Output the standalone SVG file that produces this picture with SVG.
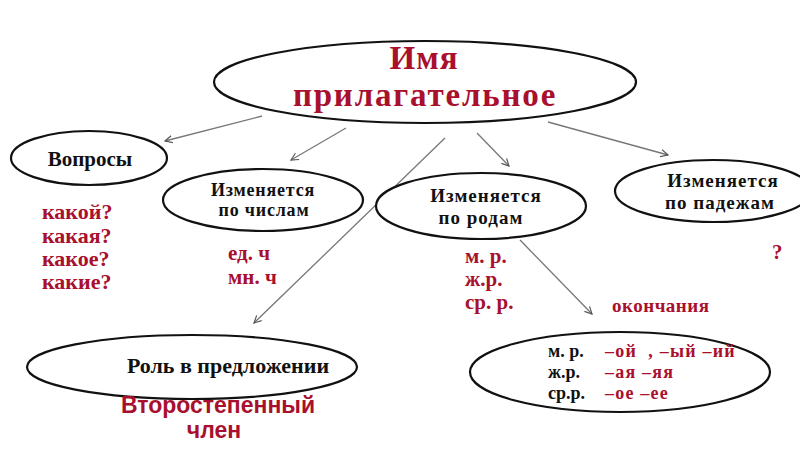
<svg xmlns="http://www.w3.org/2000/svg" width="800" height="449" viewBox="0 0 800 449">
<defs>
<style>
.n{fill:#fff;stroke:#111;stroke-width:2.2}
.b{font-family:"Liberation Serif","DejaVu Serif",serif;font-weight:bold;fill:#111}
.m{text-anchor:middle}
.r{font-family:"Liberation Serif","DejaVu Serif",serif;font-weight:bold;fill:#a8102e}
.rs{font-family:"Liberation Sans","DejaVu Sans",sans-serif;font-weight:bold;fill:#a8102e}
.c{stroke:#777;stroke-width:1.3;fill:none;marker-end:url(#a)}
</style>
<marker id="a" viewBox="0 0 10 10" refX="9" refY="5" markerWidth="9" markerHeight="9" orient="auto" markerUnits="userSpaceOnUse">
<path d="M1,1 L9,5 L1,9" fill="none" stroke="#555" stroke-width="1.3"/>
</marker>
</defs>
<rect width="800" height="449" fill="#fff"/>
<g id="connectors">
<line class="c" x1="262" y1="116" x2="165" y2="141"/>
<line class="c" x1="346" y1="128" x2="291" y2="160"/>
<line class="c" x1="445" y1="138" x2="254" y2="323"/>
<line class="c" x1="477" y1="133" x2="509" y2="166"/>
<line class="c" x1="548" y1="122" x2="668" y2="155"/>
<line class="c" x1="520" y1="240" x2="592" y2="314"/>
</g>
<g id="root">
<ellipse class="n" cx="425" cy="82" rx="211" ry="41"/>
<text class="r m" x="424" y="69" font-size="33" letter-spacing="1">Имя</text>
<text class="r m" x="425" y="106" font-size="33" letter-spacing="1.8">прилагательное</text>
</g>
<g id="questions">
<ellipse class="n" cx="89" cy="158" rx="78" ry="27"/>
<text class="b m" x="90" y="166" font-size="21">Вопросы</text>
<text class="r" x="42" y="219" font-size="22">какой?</text>
<text class="r" x="42" y="243" font-size="22">какая?</text>
<text class="r" x="42" y="266" font-size="22">какое?</text>
<text class="r" x="42" y="289" font-size="22">какие?</text>
</g>
<g id="numbers">
<ellipse class="n" cx="263" cy="200" rx="100" ry="31"/>
<text class="b m" x="263" y="196" font-size="18" letter-spacing="0.8">Изменяется</text>
<text class="b m" x="264" y="216" font-size="18" letter-spacing="0.8">по числам</text>
<text class="r" x="228" y="260" font-size="21">ед. ч</text>
<text class="r" x="228" y="284" font-size="21">мн. ч</text>
</g>
<g id="genders">
<ellipse class="n" cx="481" cy="206" rx="105" ry="33"/>
<text class="b m" x="486" y="202" font-size="19" letter-spacing="1">Изменяется</text>
<text class="b m" x="481" y="224" font-size="19" letter-spacing="1">по родам</text>
<text class="r" x="465" y="263" font-size="21">м. р.</text>
<text class="r" x="465" y="286" font-size="21">ж.р.</text>
<text class="r" x="465" y="309" font-size="21">ср. р.</text>
</g>
<g id="cases">
<ellipse class="n" cx="713" cy="191" rx="98" ry="31"/>
<text class="b m" x="723" y="187" font-size="19" letter-spacing="1">Изменяется</text>
<text class="b m" x="720" y="209" font-size="19" letter-spacing="1">по падежам</text>
<text class="r" x="772" y="259" font-size="21">?</text>
</g>
<g id="role">
<ellipse class="n" cx="192" cy="367" rx="165" ry="32"/>
<text class="b m" x="228" y="373" font-size="22">Роль в предложении</text>
<text class="rs m" x="218" y="413" font-size="23">Второстепенный</text>
<text class="rs m" x="214" y="438" font-size="23">член</text>
</g>
<g id="endings">
<text class="r" x="612" y="312" font-size="19" letter-spacing="0.5">окончания</text>
<ellipse class="n" cx="620" cy="372" rx="150" ry="40"/>
<text class="b" x="548" y="357" font-size="18">м. р.</text>
<text class="b" x="548" y="378" font-size="18">ж.р.</text>
<text class="b" x="548" y="399" font-size="18">ср.р.</text>
<text class="r" x="605" y="357" font-size="18" letter-spacing="1.2" xml:space="preserve">–ой  , –ый –ий</text>
<text class="r" x="605" y="378" font-size="18" letter-spacing="1.2">–ая –яя</text>
<text class="r" x="605" y="399" font-size="18" letter-spacing="1.2">–ое –ее</text>
</g>
</svg>
